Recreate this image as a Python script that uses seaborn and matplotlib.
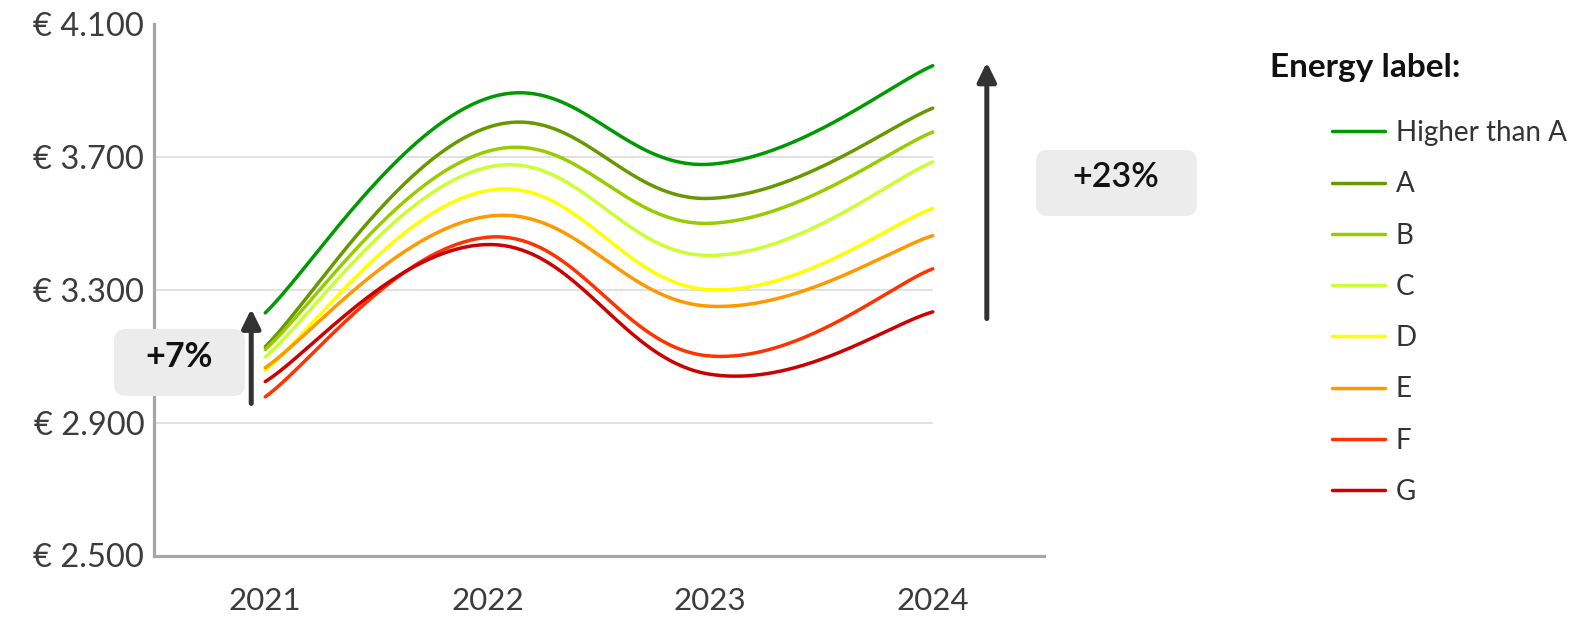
import numpy as np
import pandas as pd
import matplotlib
matplotlib.use("Agg")
import matplotlib.pyplot as plt
import seaborn as sns
from matplotlib.patches import FancyBboxPatch
from matplotlib.lines import Line2D
from matplotlib.transforms import IdentityTransform

# Average price per energy label, 2021-2024
years = ["2021", "2022", "2023", "2024"]
labels = ["Higher than A", "A", "B", "C", "D", "E", "F", "G"]
higher_than_a = [3231, 3878, 3679, 3976]
label_a = [3129, 3790, 3576, 3848]
label_b = [3121, 3718, 3501, 3776]
label_c = [3098, 3670, 3404, 3686]
label_d = [3058, 3600, 3301, 3546]
label_e = [3066, 3522, 3251, 3464]
label_f = [2978, 3459, 3101, 3364]
label_g = [3024, 3437, 3046, 3234]
series = [higher_than_a, label_a, label_b, label_c, label_d, label_e, label_f, label_g]
colors = ["#009a00", "#669900", "#99cc00", "#ccff33", "#ffff00", "#ff9900", "#ff3300", "#cc0000"]
y_ticks = [2500, 2900, 3300, 3700, 4100]


def smooth(xs, ys, n=80, k=0.2):
    """Cardinal-spline style Bezier smoothing through the given points."""
    P = np.column_stack([xs, ys]).astype(float)
    ext = np.vstack([P[0], P, P[-1]])
    t = np.linspace(0, 1, n)[:, None]
    parts = []
    for i in range(len(P) - 1):
        p0, p1, p2, p3 = ext[i], ext[i + 1], ext[i + 2], ext[i + 3]
        c1 = p1 + (p2 - p0) * k
        c2 = p2 - (p3 - p1) * k
        seg = (1 - t) ** 3 * p1 + 3 * (1 - t) ** 2 * t * c1 + 3 * (1 - t) * t ** 2 * c2 + t ** 3 * p2
        parts.append(seg if i == 0 else seg[1:])
    return np.vstack(parts)


xpos = np.arange(len(years))
frames = []
for name, vals in zip(labels, series):
    curve = smooth(xpos, vals)
    frames.append(pd.DataFrame({"x": curve[:, 0], "price": curve[:, 1], "label": name}))
df = pd.concat(frames, ignore_index=True)

sns.set_theme(style="white")
plt.rcParams["font.family"] = ["Lato", "DejaVu Sans"]

W, H = 1580, 617
fig = plt.figure(figsize=(W / 100, H / 100), dpi=100)
ax = fig.add_axes([154 / W, 1 - 555.5 / H, 890 / W, 531 / H])

sns.lineplot(data=df, x="x", y="price", hue="label", hue_order=labels, palette=colors,
             sort=False, estimator=None, linewidth=2.5, legend=False, ax=ax,
             solid_capstyle="round")

ax.set_xlim(-0.5, 3.5)
ax.set_ylim(y_ticks[0], y_ticks[-1])
ax.set_xticks(xpos)
ax.set_xticklabels(years)
ax.set_yticks(y_ticks)
ax.set_yticklabels([f"€ {v:,}".replace(",", ".") for v in y_ticks])
ax.set_xlabel("")
ax.set_ylabel("")
ax.grid(False)
ax.hlines(y_ticks[1:], -0.5, xpos[-1], color="#dcdcdc", linewidth=1.2, zorder=0)

for side in ["top", "right"]:
    ax.spines[side].set_visible(False)
for side in ["left", "bottom"]:
    ax.spines[side].set_color("#a6a6a6")
    ax.spines[side].set_linewidth(2.3)

ax.tick_params(axis="y", length=0, pad=7, labelsize=23.5, labelcolor="#3c3c3c")
ax.tick_params(axis="x", length=0, pad=23, labelsize=22.5, labelcolor="#3c3c3c")

# Legend
handles = [Line2D([], [], color=c, linewidth=2.5, solid_capstyle="round") for c in colors]
leg = ax.legend(handles, labels, loc="upper left", bbox_to_anchor=(1332 / W, 1 - 120 / H),
                bbox_transform=fig.transFigure, frameon=False, fontsize=20,
                handlelength=1.9, handletextpad=0.4, labelspacing=0.91,
                borderpad=0, borderaxespad=0)
for txt in leg.get_texts():
    txt.set_color("#333333")
fig.text(1270 / W, 1 - 67.5 / H, "Energy label:", ha="left", va="center",
         fontsize=24, fontweight="bold", color="#111111")

# Change from label G to "Higher than A" in the first and last year
pct_first = round((higher_than_a[0] / label_g[0] - 1) * 100)
pct_last = round((higher_than_a[-1] / label_g[-1] - 1) * 100)

arrow_kw = dict(arrowstyle="-|>,head_length=0.57,head_width=0.28", color="#333333",
                lw=3.6, shrinkA=0, shrinkB=0, mutation_scale=20)
ax.annotate("", xy=(-0.063, 3243), xytext=(-0.063, 2958), arrowprops=arrow_kw,
            annotation_clip=False, zorder=6)
ax.annotate("", xy=(3.243, 3986), xytext=(3.243, 3214), arrowprops=arrow_kw,
            annotation_clip=False, zorder=6)

for (x0, y0, w, h), (tx, ty), text, weight in [
    ((114, H - 396, 131, 67), (179, H - 357), f"+{pct_first}%", "bold"),
    ((1036, H - 216, 161, 66), (1116, H - 177), f"+{pct_last}%", "semibold"),
]:
    box = FancyBboxPatch((x0, y0), w, h, boxstyle="round,pad=0,rounding_size=12",
                         transform=IdentityTransform(), facecolor="#ececec",
                         edgecolor="none", zorder=5)
    fig.add_artist(box)
    fig.text(tx / W, ty / H, text, ha="center", va="center", fontsize=24.5,
             fontweight=weight, color="#111111", zorder=7)

fig.savefig("out.png", dpi=100)
